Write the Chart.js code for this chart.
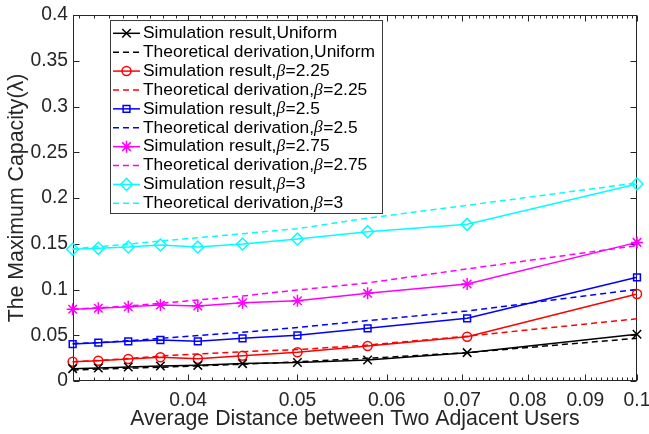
<!DOCTYPE html>
<html>
<head>
<meta charset="utf-8">
<script src="https://cdn.jsdelivr.net/npm/chart.js@4"></script>
<style>
html,body{margin:0;padding:0;background:#fff;}
#wrap{width:649px;height:434px;position:relative;}
</style>
</head>
<body>
<div id="wrap"><canvas id="c" width="649" height="434"></canvas></div>
<script>
// ---- data ----
const xValues = [0.0316, 0.0333, 0.0354, 0.0378, 0.0408, 0.0447, 0.05, 0.0577, 0.0707, 0.1];
const simUniform  = [0.0135, 0.0142, 0.0153, 0.0164, 0.0171, 0.0190, 0.0202, 0.0230, 0.0310, 0.0510];
const theoUniform = [0.0120, 0.0130, 0.0140, 0.0150, 0.0165, 0.0183, 0.0210, 0.0248, 0.0310, 0.0467];
const simB225  = [0.0211, 0.0222, 0.0240, 0.0259, 0.0244, 0.0277, 0.0314, 0.0383, 0.0484, 0.0951];
const theoB225 = [0.0210, 0.0225, 0.0245, 0.0273, 0.0295, 0.0320, 0.0343, 0.0393, 0.0490, 0.0680];
const simB25   = [0.0404, 0.0419, 0.0434, 0.0448, 0.0434, 0.0467, 0.0499, 0.0576, 0.0685, 0.1133];
const theoB25  = [0.0410, 0.0420, 0.0440, 0.0467, 0.0496, 0.0532, 0.0585, 0.0660, 0.0765, 0.1002];
const simB275  = [0.0784, 0.0795, 0.0812, 0.0831, 0.0820, 0.0856, 0.0878, 0.0958, 0.1060, 0.1515];
const theoB275 = [0.0784, 0.0800, 0.0820, 0.0849, 0.0885, 0.0929, 0.0995, 0.1072, 0.1225, 0.1480];
const simB3    = [0.1439, 0.1450, 0.1464, 0.1486, 0.1464, 0.1497, 0.1552, 0.1632, 0.1712, 0.2153];
const theoB3   = [0.1443, 0.1467, 0.1496, 0.1530, 0.1566, 0.1610, 0.1665, 0.1780, 0.1920, 0.2165];

const xTickValues = [0.04, 0.05, 0.06, 0.07, 0.08, 0.09, 0.1];
const xTickLabels = ['0.04', '0.05', '0.06', '0.07', '0.08', '0.09', '0.1'];
const yTickValues = [0, 0.05, 0.1, 0.15, 0.2, 0.25, 0.3, 0.35, 0.4];
const yTickLabels = ['0', '0.05', '0.1', '0.15', '0.2', '0.25', '0.3', '0.35', '0.4'];
const xMin = 0.0316228, xMax = 0.1;

const seriesLabels = [
  'Simulation result,Uniform', 'Theoretical derivation,Uniform',
  'Simulation result,β=2.25', 'Theoretical derivation,β=2.25',
  'Simulation result,β=2.5', 'Theoretical derivation,β=2.5',
  'Simulation result,β=2.75', 'Theoretical derivation,β=2.75',
  'Simulation result,β=3', 'Theoretical derivation,β=3'
];

// minor tick positions (every 0.001 between major decades of the axis)
const xMinorTicks = [];
for (let k = 32; k <= 99; k++) { if (k % 10 !== 0) xMinorTicks.push(k / 1000); }

const FONT = '"Liberation Sans", Arial, Helvetica, sans-serif';
const AX = '#262626';

function pts(ys) { return xValues.map((x, i) => ({x: x, y: ys[i]})); }

function simSet(label, ys, color, style, r) {
  return {label, data: pts(ys), borderColor: color, backgroundColor: 'rgba(0,0,0,0)',
    borderWidth: 1.5, pointStyle: style, pointRadius: r, pointBorderWidth: 1.5,
    pointBorderColor: color, pointBackgroundColor: 'rgba(0,0,0,0)', tension: 0, clip: false};
}
function theoSet(label, ys, color) {
  return {label, data: pts(ys), borderColor: color, backgroundColor: 'rgba(0,0,0,0)',
    borderWidth: 1.5, borderDash: [6, 4], pointRadius: 0, tension: 0, clip: false};
}

const datasets = [
  simSet(seriesLabels[0], simUniform, '#000000', 'crossRot', 6),
  theoSet(seriesLabels[1], theoUniform, '#000000'),
  simSet(seriesLabels[2], simB225, '#ff0000', 'circle', 4.5),
  theoSet(seriesLabels[3], theoB225, '#ff0000'),
  simSet(seriesLabels[4], simB25, '#0000ff', 'rect', 4.8),
  theoSet(seriesLabels[5], theoB25, '#0000ff'),
  simSet(seriesLabels[6], simB275, '#ff00ff', 'star', 6),
  theoSet(seriesLabels[7], theoB275, '#ff00ff'),
  simSet(seriesLabels[8], simB3, '#00ffff', 'rectRot', 6),
  theoSet(seriesLabels[9], theoB3, '#00ffff')
];

// frame + inward tick marks
const framePlugin = {
  id: 'frame',
  beforeDatasetsDraw(chart) {
    const {ctx, chartArea: a, scales} = chart;
    const L = Math.round(a.left) + 0.5, R = Math.round(a.right) - 0.5;
    const T = Math.round(a.top) + 0.5, B = Math.round(a.bottom) - 0.5;
    ctx.save();
    ctx.strokeStyle = AX; ctx.lineWidth = 1;
    ctx.strokeRect(L, T, R - L, B - T);
    ctx.beginPath();
    const xs = scales.x, ys = scales.y;
    xTickValues.forEach(v => {
      const px = Math.round(xs.getPixelForValue(v)) + 0.5;
      ctx.moveTo(px, B); ctx.lineTo(px, B - 6);
      ctx.moveTo(px, T); ctx.lineTo(px, T + 6);
    });
    xMinorTicks.forEach(v => {
      const px = Math.round(xs.getPixelForValue(v)) + 0.5;
      ctx.moveTo(px, B); ctx.lineTo(px, B - 3);
      ctx.moveTo(px, T); ctx.lineTo(px, T + 3);
    });
    yTickValues.forEach(v => {
      const py = Math.round(ys.getPixelForValue(v)) + 0.5;
      ctx.moveTo(L, py); ctx.lineTo(L + 6, py);
      ctx.moveTo(R, py); ctx.lineTo(R - 6, py);
    });
    ctx.stroke();
    ctx.restore();
  }
};

// legend box inside the axes
const legendPlugin = {
  id: 'boxLegend',
  afterDraw(chart) {
    const ctx = chart.ctx;
    const bx = 110.5, by = 20.5, bw = 272, bh = 193;
    ctx.save();
    ctx.fillStyle = '#ffffff';
    ctx.fillRect(bx, by, bw, bh);
    ctx.strokeStyle = '#3a3a3a'; ctx.lineWidth = 1;
    ctx.strokeRect(bx, by, bw, bh);
    const fs = 17.4;
    chart.data.datasets.forEach((ds, i) => {
      const y = 33.3 + i * 18.89;
      ctx.save();
      ctx.strokeStyle = ds.borderColor; ctx.lineWidth = 1.5;
      ctx.setLineDash(ds.borderDash || []);
      ctx.beginPath(); ctx.moveTo(113, y); ctx.lineTo(140, y); ctx.stroke();
      ctx.setLineDash([]);
      if (ds.pointRadius > 0) {
        ctx.fillStyle = 'rgba(0,0,0,0)';
        ctx.strokeStyle = ds.pointBorderColor;
        ctx.lineWidth = ds.pointBorderWidth;
        Chart.helpers.drawPoint(ctx, {pointStyle: ds.pointStyle, radius: ds.pointRadius,
          borderWidth: ds.pointBorderWidth, rotation: 0}, 126.5, y);
      }
      ctx.restore();
      // text with italic beta
      ctx.fillStyle = '#000';
      ctx.textBaseline = 'middle';
      ctx.textAlign = 'left';
      let x = 143;
      const parts = ds.label.split('β');
      parts.forEach((p, j) => {
        if (j > 0) {
          ctx.font = 'italic ' + fs + 'px "Liberation Serif", "Times New Roman", serif';
          ctx.fillText('β', x, y);
          x += ctx.measureText('β').width + 0.5;
        }
        ctx.font = fs + 'px ' + FONT;
        ctx.fillText(p, x, y);
        x += ctx.measureText(p).width;
      });
    });
    ctx.restore();
  }
};

new Chart(document.getElementById('c'), {
  type: 'line',
  data: {datasets},
  plugins: [framePlugin, legendPlugin],
  options: {
    responsive: false,
    animation: false,
    events: [],
    layout: {padding: {top: 15, right: 12, left: 0, bottom: 0}},
    plugins: {legend: {display: false}, tooltip: {enabled: false}},
    scales: {
      x: {
        type: 'logarithmic', min: xMin, max: xMax,
        grid: {display: false, drawTicks: false},
        border: {display: false},
        afterBuildTicks(s) { s.ticks = xTickValues.map(v => ({value: v})); },
        afterFit(s) { s.height = 53; s.paddingLeft = 0; s.paddingRight = 0; },
        ticks: {
          autoSkip: false, maxRotation: 0, minRotation: 0, padding: 8, color: AX,
          font: {family: FONT, size: 19.3},
          callback: (v, i) => xTickLabels[i]
        },
        title: {display: true, text: 'Average Distance between Two Adjacent Users', color: AX,
          font: {family: FONT, size: 21.3}, padding: {top: 0, bottom: 2}}
      },
      y: {
        type: 'linear', min: 0, max: 0.4,
        grid: {display: false, drawTicks: false},
        border: {display: false},
        afterBuildTicks(s) { s.ticks = yTickValues.map(v => ({value: v})); },
        afterFit(s) { s.width = 73; s.paddingTop = 0; s.paddingBottom = 0; },
        ticks: {
          padding: 5, color: AX, font: {family: FONT, size: 19.3},
          callback: (v, i) => yTickLabels[i]
        },
        title: {display: true, text: 'The Maximum Capacity(λ)', color: AX,
          font: {family: FONT, size: 21.3}, padding: {top: 4, bottom: 0}}
      }
    }
  }
});
</script>
</body>
</html>
